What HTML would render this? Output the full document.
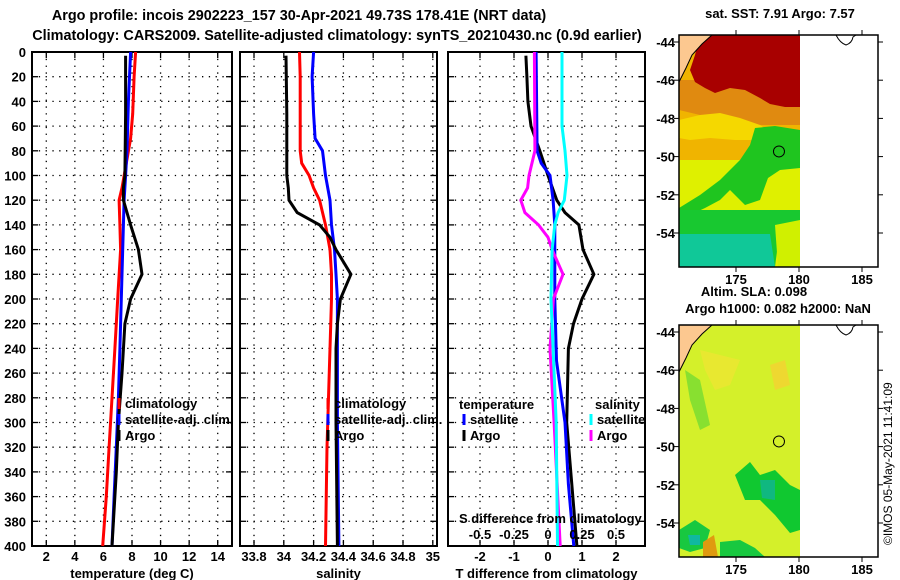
<!DOCTYPE html>
<html><head><meta charset="utf-8"><style>
html,body{margin:0;padding:0;background:#fff;}
svg{display:block;font-family:"Liberation Sans",sans-serif;font-weight:bold;}
text{font-size:13px;fill:#000;}
</style></head><body>
<svg id="fig" width="900" height="580" viewBox="0 0 900 580" xmlns="http://www.w3.org/2000/svg">
<text x="299" y="20" text-anchor="middle" style="font-size:14.4px">Argo profile: incois 2902223_157 30-Apr-2021 49.73S 178.41E (NRT data)</text>
<text x="337" y="40" text-anchor="middle" style="font-size:14.4px">Climatology: CARS2009. Satellite-adjusted climatology: synTS_20210430.nc (0.9d earlier)</text>
<g id="panels"></g>
<g id="maps"></g>
<text transform="translate(892,545) rotate(-90)" style="font-size:12px;font-weight:normal">©IMOS 05-May-2021 11:41:09</text>
</svg>
<script>
// depths (m)
const depthTicks = [0,20,40,60,80,100,120,140,160,180,200,220,240,260,280,300,320,340,360,380,400];
// Panel 1: temperature (deg C)
const tClimD = [0,20,50,70,90,110,120,140,160,200,240,280,320,360,400];
const tClim  = [8.25,8.15,8.05,7.9,7.6,7.3,7.1,7.15,7.2,7.0,6.8,6.6,6.4,6.2,5.95];
const tSatD = [0,40,80,100,120,160,200,240,280,320,360,400];
const tSat  = [7.9,7.75,7.65,7.55,7.45,7.35,7.25,7.15,7.05,6.9,6.75,6.6];
const tArgoD = [3,50,100,110,120,140,160,180,200,220,260,300,340,400];
const tArgo  = [7.55,7.55,7.5,7.4,7.4,7.9,8.45,8.7,7.9,7.5,7.3,7.05,6.9,6.6];
const tTicks = [2,4,6,8,10,12,14];
// Panel 2: salinity
const sClimD = [0,20,60,80,90,100,110,120,140,160,180,200,280,320,400];
const sClim  = [34.105,34.11,34.11,34.11,34.12,34.17,34.2,34.24,34.28,34.31,34.32,34.32,34.3,34.29,34.28];
const sSatD = [0,20,50,70,80,100,120,140,160,180,200,300,400];
const sSat  = [34.2,34.19,34.2,34.21,34.26,34.28,34.31,34.32,34.34,34.35,34.36,34.36,34.37];
const sArgoD = [3,50,100,110,120,130,140,150,160,180,200,220,240,300,400];
const sArgo  = [34.015,34.02,34.02,34.03,34.035,34.09,34.24,34.31,34.35,34.45,34.38,34.36,34.35,34.35,34.36];
const sTicks = [33.8,34,34.2,34.4,34.6,34.8,35];
const sTickLabels = ["33.8","34","34.2","34.4","34.6","34.8","35"];
// Panel 3: differences
const dTArgoD = [3,20,40,60,80,100,120,130,140,160,180,200,220,240,300,350,400];
const dTArgo  = [-0.65,-0.62,-0.59,-0.5,-0.24,0,0.26,0.5,0.91,1.03,1.35,1.0,0.75,0.6,0.55,0.7,0.85];
const dTSatD = [0,80,90,100,120,140,200,250,300,350,400];
const dTSat  = [-0.35,-0.32,-0.2,0.06,0.15,0.2,0.2,0.25,0.5,0.6,0.76];
const dSArgoD = [0,80,100,110,120,130,140,150,160,170,180,200,240,300,400];
const dSArgo  = [-0.1,-0.096,-0.14,-0.15,-0.2,-0.17,-0.07,0,0.03,0.07,0.11,0.04,0.015,0.045,0.09];
const dSSatD = [0,60,80,100,120,130,140,160,200,300,400];
const dSSat  = [0.103,0.103,0.125,0.14,0.12,0.074,0.05,0.03,0.022,0.06,0.07];
const dTTicks = [-2,-1,0,1,2];
const dSTicks = [-0.5,-0.25,0,0.25,0.5];

const NS='http://www.w3.org/2000/svg';
function mk(tag,attrs,parent){const e=document.createElementNS(NS,tag);for(const k in attrs)e.setAttribute(k,attrs[k]);parent.appendChild(e);return e;}
const Y0=52, Y1=546;
const yS = d => Y0 + (d/400)*(Y1-Y0);
const G = document.getElementById('panels');

function panel(name,x0,x1,xs,ticks,labels,title){
  const g=mk('g',{},G);
  
  
  depthTicks.forEach(d=>{ if(d>0&&d<400){
    const l=mk('line',{x1:x0,x2:x1,y1:yS(d),y2:yS(d),stroke:'#000','stroke-width':1.3,'stroke-dasharray':'1.3 5.5'},g);
     
    mk('line',{x1:x0,x2:x0+6,y1:yS(d),y2:yS(d),stroke:'#000','stroke-width':1.3},g);
    mk('line',{x1:x1-6,x2:x1,y1:yS(d),y2:yS(d),stroke:'#000','stroke-width':1.3},g);
  }});
  ticks.forEach((v,i)=>{
    const x=xs(v);
    const l=mk('line',{x1:x,x2:x,y1:Y0,y2:Y1,stroke:'#000','stroke-width':1.3,'stroke-dasharray':'1.3 5.5'},g);
     
    mk('line',{x1:x,x2:x,y1:Y1-6,y2:Y1,stroke:'#000','stroke-width':1.3},g);
    mk('line',{x1:x,x2:x,y1:Y0,y2:Y0+6,stroke:'#000','stroke-width':1.3},g);
    const t=mk('text',{x:x,y:561,'text-anchor':'middle'},g);
    t.textContent=labels[i];
     
  });
  const r=mk('rect',{x:x0,y:Y0,width:x1-x0,height:Y1-Y0,fill:'none',stroke:'#000','stroke-width':2},g);
   
  const tt=mk('text',{x:(x0+x1)/2,y:578,'text-anchor':'middle'},g);
  tt.textContent=title;
   
  return g;
}
function series(g,name,ds,vs,xs,color){
  const pts=ds.map((d,i)=>xs(vs[i]).toFixed(1)+','+yS(d).toFixed(1)).join(' ');
  const p=mk('polyline',{points:pts,fill:'none',stroke:color,'stroke-width':3,'stroke-linejoin':'miter'},g);
  
  
}
function legendEntry(g,x,y,color,label,name){
  const l=mk('line',{x1:x-6,x2:x-6,y1:y-10,y2:y+1,stroke:color,'stroke-width':3},g);
  const t=mk('text',{x:x,y:y},g); t.textContent=label;
  
  
}
// y labels
depthTicks.forEach(d=>{
  const t=mk('text',{x:26,y:yS(d)+5,'text-anchor':'end'},G);
  t.textContent=d;
  
  
});
// Panel 1
const xT = v => 32 + (v-1)*(200/14);
const g1=panel('temperature-panel',32,232,xT,tTicks,tTicks.map(String),'temperature (deg C)');
series(g1,'temp-climatology-line',tClimD,tClim,xT,'#f00');
series(g1,'temp-satellite-line',tSatD,tSat,xT,'#00f');
series(g1,'temp-argo-line',tArgoD,tArgo,xT,'#000');
legendEntry(g1,125,408,'#f00','climatology','legend-climatology');
legendEntry(g1,125,424,'#00f','satellite-adj. clim.','legend-satellite-adj');
legendEntry(g1,125,440,'#000','Argo','legend-argo');
// Panel 2
const xS = v => 240 + (v-33.706)*149;
const g2=panel('salinity-panel',240,437,xS,sTicks,sTickLabels,'salinity');
series(g2,'sal-climatology-line',sClimD,sClim,xS,'#f00');
series(g2,'sal-satellite-line',sSatD,sSat,xS,'#00f');
series(g2,'sal-argo-line',sArgoD,sArgo,xS,'#000');
legendEntry(g2,334,408,'#f00','climatology','legend-climatology');
legendEntry(g2,334,424,'#00f','satellite-adj. clim.','legend-satellite-adj');
legendEntry(g2,334,440,'#000','Argo','legend-argo');
// Panel 3
const xD = v => 548 + v*34;
const xDS = v => 548 + v*136;
const g3=panel('difference-panel',448,645,xD,dTTicks,dTTicks.map(String),'T difference from climatology');
series(g3,'dT-argo-line',dTArgoD,dTArgo,xD,'#000');
series(g3,'dT-satellite-line',dTSatD,dTSat,xD,'#00f');
series(g3,'dS-argo-line',dSArgoD,dSArgo,xDS,'#f0f');
series(g3,'dS-satellite-line',dSSatD,dSSat,xDS,'#0ff');
{const t=mk('text',{x:459,y:409},g3);t.textContent='temperature';}
{const t=mk('text',{x:595,y:409},g3);t.textContent='salinity';}
legendEntry(g3,470,424,'#00f','satellite','legend-t-satellite');
legendEntry(g3,470,440,'#000','Argo','legend-t-argo');
legendEntry(g3,597,424,'#0ff','satellite','legend-s-satellite');
legendEntry(g3,597,440,'#f0f','Argo','legend-s-argo');
{const t=mk('text',{x:459,y:523},g3);t.textContent='S difference from climatology';}
dSTicks.forEach(v=>{const t=mk('text',{x:xDS(v),y:539,'text-anchor':'middle'},g3);t.textContent=String(v);
  });

// Maps
const M=document.getElementById('maps');
const lonTicks=[175,180,185];
const latTicks=[-44,-46,-48,-50,-52,-54];
const argoLon=178.41, argoLat=-49.73;
function mapPanel(name,top,title1,title2,kind){
  const g=mk('g',{},M);
  
  
  const X=lon=>736+(lon-175)*12.6;
  const Yl=lat=>top+7+(-44-lat)*19.1;
  const L=679,R=878,T=top,B=top+232,DR=800;
  const o=(x,y)=>(x)+','+(y-35+top);
  if(kind==='sst'){
    mk('rect',{x:L,y:T,width:DR-L,height:B-T,fill:'#dff000'},g);
    mk('polygon',{points:[o(679,35),o(800,35),o(800,160),o(679,160)].join(' '),fill:'#f0b400'},g);
    mk('polygon',{points:[o(679,80),o(800,80),o(800,125),o(760,125),o(740,122),o(720,118),o(700,115),o(679,110)].join(' '),fill:'#e08a10'},g);
    mk('polygon',{points:[o(700,35),o(800,35),o(800,107),o(785,107),o(770,104),o(760,98),o(745,90),o(730,88),o(715,93),o(705,88),o(695,82),o(690,70),o(695,55)].join(' '),fill:'#a80000'},g);
    mk('polygon',{points:[o(700,115),o(720,113),o(740,118),o(760,125),o(775,135),o(760,140),o(735,140),o(710,138),o(690,140),o(679,138),o(679,120)].join(' '),fill:'#f5d800'},g);
    mk('polygon',{points:[o(755,128),o(775,126),o(800,130),o(800,168),o(780,170),o(768,178),o(760,200),o(745,205),o(730,190),o(720,200),o(705,208),o(690,215),o(679,215),o(679,208),o(700,195),o(720,180),o(740,160),o(750,145)].join(' '),fill:'#1fc51f'},g);
    mk('polygon',{points:[o(679,210),o(800,210),o(800,222),o(780,228),o(775,267),o(679,267)].join(' '),fill:'#18c830'},g);
    mk('polygon',{points:[o(679,234),o(770,234),o(775,267),o(679,267)].join(' '),fill:'#10c898'},g);
    mk('polygon',{points:[o(775,225),o(800,220),o(800,267),o(778,267)].join(' '),fill:'#d0f000'},g);
  } else {
    mk('rect',{x:L,y:T,width:DR-L,height:B-T,fill:'#d4f02a'},g);
    mk('polygon',{points:[o(700,60),o(720,65),o(740,70),o(730,95),o(715,100),o(705,80)].join(' '),fill:'#e8e830'},g);
    mk('polygon',{points:[o(770,75),o(785,70),o(790,95),o(775,100)].join(' '),fill:'#eed830'},g);
    mk('polygon',{points:[o(685,80),o(700,90),o(710,135),o(700,140),o(690,110)].join(' '),fill:'#88e030'},g);
    mk('polygon',{points:[o(735,185),o(750,172),o(760,185),o(775,180),o(790,195),o(800,200),o(800,240),o(790,243),o(775,225),o(760,210),o(745,210)].join(' '),fill:'#10c830'},g);
    mk('polygon',{points:[o(760,190),o(775,190),o(775,210),o(762,208)].join(' '),fill:'#10b880'},g);
    mk('polygon',{points:[o(679,240),o(695,230),o(710,240),o(705,258),o(690,262),o(679,258)].join(' '),fill:'#18c840'},g);
    mk('polygon',{points:[o(688,245),o(700,245),o(700,255),o(690,255)].join(' '),fill:'#10b8a0'},g);
    mk('polygon',{points:[o(720,252),o(740,250),o(755,258),o(765,267),o(720,267)].join(' '),fill:'#18c840'},g);
    mk('polygon',{points:[o(703,252),o(714,245),o(718,267),o(703,267)].join(' '),fill:'#e09a10'},g);
  }
  // land
  const land=mk('polygon',{points:[o(679,35),o(712,35),o(702,44),o(692,55),o(686,68),o(681,78),o(679,82)].join(' '),fill:'#fcc890',stroke:'#000','stroke-width':1},g);
   
  mk('path',{d:'M836 '+(35-35+top)+' q4 8 10 10 q6 -2 7 -8 l3 -2',fill:'none',stroke:'#000','stroke-width':1},g);
  mk('rect',{x:L,y:T,width:R-L,height:B-T,fill:'none',stroke:'#000','stroke-width':1.5},g);
  lonTicks.forEach(v=>{const x=X(v);
    mk('line',{x1:x,x2:x,y1:T-5,y2:T,stroke:'#000','stroke-width':1},g);
    mk('line',{x1:x,x2:x,y1:B,y2:B+5,stroke:'#000','stroke-width':1},g);
    const t=mk('text',{x:x,y:B+17,'text-anchor':'middle'},g);t.textContent=v;
    });
  latTicks.forEach(v=>{const y=Yl(v);
    mk('line',{x1:L-5,x2:L,y1:y,y2:y,stroke:'#000','stroke-width':1},g);
    mk('line',{x1:R,x2:R+5,y1:y,y2:y,stroke:'#000','stroke-width':1},g);
    const t=mk('text',{x:L-4,y:y+5,'text-anchor':'end'},g);t.textContent=v;
    });
  const c=mk('circle',{cx:X(argoLon),cy:Yl(argoLat),r:5.5,fill:'none',stroke:'#000','stroke-width':1},g);
   
  if(title1){const t=mk('text',{x:780,y:top-17,'text-anchor':'middle'},g);t.textContent=title1;
    }
}
mapPanel('sst-map',35,'sat. SST: 7.91 Argo: 7.57',null,'sst');
mapPanel('sla-map',325,null,null,'sla');
{const t=mk('text',{x:754,y:296,'text-anchor':'middle'},M);t.textContent='Altim. SLA: 0.098';}
{const t=mk('text',{x:778,y:313,'text-anchor':'middle'},M);t.textContent='Argo h1000: 0.082 h2000: NaN';}
</script>
</body></html>
